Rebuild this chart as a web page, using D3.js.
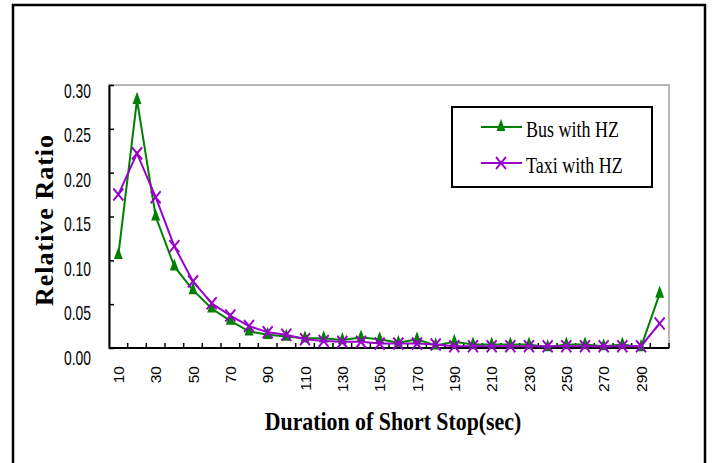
<!DOCTYPE html>
<html>
<head>
<meta charset="utf-8">
<script src="https://cdn.jsdelivr.net/npm/d3@7"></script>
<style>
  body { margin: 0; background: #fff; }
  svg { display: block; }
</style>
</head>
<body>
<div id="chart"></div>
<script>
// data
var durations = [10, 20, 30, 40, 50, 60, 70, 80, 90, 100, 110, 120, 130, 140, 150,
                 160, 170, 180, 190, 200, 210, 220, 230, 240, 250, 260, 270, 280, 290, 300];
var busHZ = [0.106, 0.283, 0.150, 0.093, 0.066, 0.045, 0.031, 0.019, 0.015, 0.013,
             0.011, 0.011, 0.009, 0.012, 0.010, 0.006, 0.010, 0.003, 0.007, 0.004,
             0.004, 0.004, 0.004, 0.001, 0.004, 0.004, 0.002, 0.004, 0.001, 0.062];
var taxiHZ = [0.175, 0.222, 0.172, 0.116, 0.076, 0.051, 0.037, 0.025, 0.018, 0.015,
              0.010, 0.008, 0.007, 0.007, 0.005, 0.005, 0.005, 0.004, 0.002, 0.002,
              0.002, 0.002, 0.002, 0.002, 0.002, 0.002, 0.002, 0.002, 0.002, 0.028];
var xTickLabels = [10, 30, 50, 70, 90, 110, 130, 150, 170, 190, 210, 230, 250, 270, 290];
var yTicks = [0, 0.05, 0.10, 0.15, 0.20, 0.25, 0.30];

var width = 712, height = 463;
var plot = { left: 109, top: 85, right: 669, bottom: 348 };

var svg = d3.select("#chart")
    .append("svg")
    .attr("width", width)
    .attr("height", height);

svg.append("rect").attr("width", width).attr("height", height).attr("fill", "#fff");

// outer frame (bottom edge runs off the picture)
svg.append("rect")
    .attr("x", 13).attr("y", 5)
    .attr("width", 692).attr("height", 480)
    .attr("fill", "none")
    .attr("stroke", "#000")
    .attr("stroke-width", 2.5);

var x = d3.scaleBand()
    .domain(durations)
    .range([plot.left, plot.right]);
var y = d3.scaleLinear()
    .domain([0, 0.30])
    .range([plot.bottom, plot.top]);
// tick labels sit a bit lower than their ticks in the original
var yLabel = d3.scaleLinear()
    .domain([0, 0.30])
    .range([357, 90.5]);

var cx = function (d) { return x(d) + x.bandwidth() / 2; };

// plot area border (grey top/right)
svg.append("rect")
    .attr("x", plot.left).attr("y", plot.top)
    .attr("width", plot.right - plot.left)
    .attr("height", plot.bottom - plot.top)
    .attr("fill", "none")
    .attr("stroke", "#a0a0a0")
    .attr("stroke-width", 1.5);

// Y axis, ticks pointing inward
var yAxis = svg.append("g")
    .attr("transform", "translate(" + plot.left + ",0)")
    .call(d3.axisLeft(y).tickValues(yTicks).tickSizeInner(-5).tickSizeOuter(0).tickFormat(""));
yAxis.select(".domain").attr("stroke-width", 2);
yAxis.selectAll(".tick line").attr("stroke-width", 1.5);

svg.append("g").selectAll("text")
    .data(yTicks)
    .join("text")
    .attr("transform", function (d) { return "translate(91," + (yLabel(d) + 7.5) + ") scale(0.66,1)"; })
    .attr("text-anchor", "end")
    .style("font-family", "'Liberation Sans', Arial, sans-serif")
    .style("font-size", "21px")
    .attr("fill", "#000")
    .text(d3.format(".2f"));

// X axis: ticks on band edges, inward
var xAxis = svg.append("g")
    .attr("transform", "translate(0," + plot.bottom + ")");
xAxis.append("line")
    .attr("x1", plot.left).attr("x2", plot.right)
    .attr("stroke", "#000").attr("stroke-width", 2);
xAxis.selectAll(".edge")
    .data(durations)
    .join("line")
    .attr("class", "edge")
    .attr("x1", function (d) { return x(d) + x.bandwidth(); })
    .attr("x2", function (d) { return x(d) + x.bandwidth(); })
    .attr("y1", 0).attr("y2", -5)
    .attr("stroke", "#000").attr("stroke-width", 1.5);

svg.append("g").selectAll("text")
    .data(xTickLabels)
    .join("text")
    .attr("transform", function (d) { return "translate(" + (cx(d) + 5.5) + ",366) rotate(-90)"; })
    .attr("text-anchor", "end")
    .style("font-family", "'Liberation Sans', Arial, sans-serif")
    .style("font-size", "15.5px")
    .attr("fill", "#000")
    .text(function (d) { return d; });

// axis titles
svg.append("text")
    .attr("transform", "translate(393,430) scale(0.84,1)")
    .attr("text-anchor", "middle")
    .style("font-family", "'Liberation Serif', 'Times New Roman', serif")
    .style("font-weight", "bold")
    .style("font-size", "26px")
    .text("Duration of Short Stop(sec)");

svg.append("text")
    .attr("transform", "translate(53,220) rotate(-90)")
    .attr("text-anchor", "middle")
    .style("font-family", "'Liberation Serif', 'Times New Roman', serif")
    .style("font-weight", "bold")
    .style("font-size", "26px")
    .style("letter-spacing", "1px")
    .text("Relative  Ratio");

// series
var green = "#008000", purple = "#9900cc";
var triangle = d3.symbol(d3.symbolTriangle).size(70);
var cross = d3.symbol(d3.symbolX).size(67);

function drawSeries(values, color, marker, markerScale, filled) {
    var pts = durations.map(function (d, i) { return [cx(d), y(values[i])]; });
    svg.append("path")
        .datum(pts)
        .attr("fill", "none")
        .attr("stroke", color)
        .attr("stroke-width", 2)
        .attr("d", d3.line());
    svg.append("g").selectAll("path")
        .data(pts)
        .join("path")
        .attr("transform", function (p) { return "translate(" + p[0] + "," + p[1] + ") scale(" + markerScale + ")"; })
        .attr("d", marker)
        .attr("fill", filled ? color : "none")
        .attr("stroke", filled ? "none" : color)
        .attr("stroke-width", 1.8);
}

drawSeries(busHZ, green, triangle, "0.7,1.1", true);
drawSeries(taxiHZ, purple, cross, "1,1.2", false);

// legend
var legend = svg.append("g");
legend.append("rect")
    .attr("x", 452).attr("y", 107)
    .attr("width", 200).attr("height", 80)
    .attr("fill", "#fff")
    .attr("stroke", "#000")
    .attr("stroke-width", 2);

var legendItems = [
    { name: "Bus with HZ", color: green, marker: triangle, scale: "0.7,1.1", filled: true, y: 127 },
    { name: "Taxi with HZ", color: purple, marker: cross, scale: "1,1.2", filled: false, y: 163 }
];
legendItems.forEach(function (it) {
    legend.append("line")
        .attr("x1", 481).attr("x2", 522)
        .attr("y1", it.y).attr("y2", it.y)
        .attr("stroke", it.color).attr("stroke-width", 2);
    legend.append("path")
        .attr("transform", "translate(501," + it.y + ") scale(" + it.scale + ")")
        .attr("d", it.marker)
        .attr("fill", it.filled ? it.color : "none")
        .attr("stroke", it.filled ? "none" : it.color)
        .attr("stroke-width", 1.8);
    legend.append("text")
        .attr("transform", "translate(526," + (it.y + 9.5) + ") scale(0.8,1)")
        .style("font-family", "'Liberation Serif', 'Times New Roman', serif")
        .style("font-size", "22.5px")
        .attr("fill", "#000")
        .text(it.name);
});
</script>
</body>
</html>
